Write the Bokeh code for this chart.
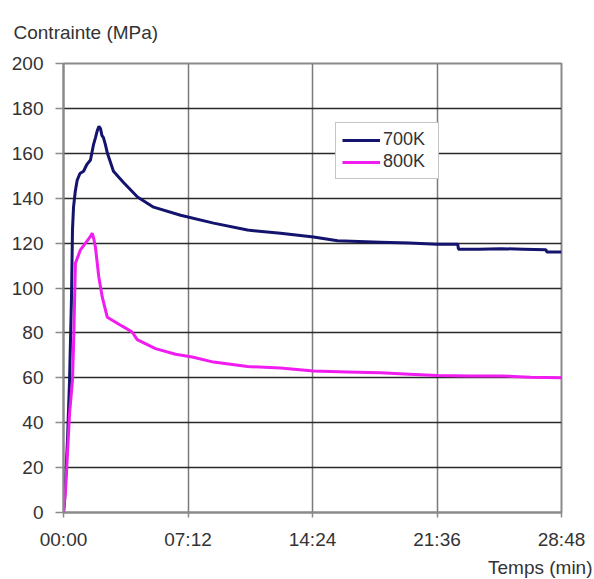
from bokeh.plotting import figure
from bokeh.models import FixedTicker, Legend, LegendItem, Range1d, Title
from bokeh.embed import file_html
from bokeh.resources import INLINE

# time in minutes, stress in MPa
t_700 = [0.0, 0.06, 0.23, 0.35, 0.46, 0.52, 0.58, 0.68, 0.79, 0.95, 1.16, 1.35, 1.56, 1.74, 1.85,
         1.95, 2.05, 2.14, 2.22, 2.31, 2.42, 2.54, 2.89, 3.47, 4.28, 5.21, 6.77, 8.68,
         10.64, 12.55, 14.46, 15.85, 18.33, 20.0, 21.6, 22.8, 22.84, 24.0, 25.3, 26.6, 27.9, 27.95, 28.8]
s_700 = [0, 5, 32, 59, 95, 126, 136, 143, 148, 151, 152, 155, 157, 164, 167,
         170, 172, 171, 168, 167, 164, 160, 152, 147, 140.5, 136, 132.4, 128.9,
         125.8, 124.4, 122.7, 121, 120.4, 120, 119.5, 119.5, 117.3, 117.3, 117.5, 117.3, 117, 116, 116]

t_800 = [0.0, 0.12, 0.21, 0.35, 0.52, 0.58, 0.69, 0.98, 1.37, 1.56, 1.66, 1.75, 1.85,
         2.04, 2.24, 2.53, 3.4, 3.97, 4.26, 5.32, 6.48, 7.44, 8.68,
         10.64, 12.55, 14.46, 16.4, 18.33, 20.0, 21.6, 23.5, 25.3, 27.0, 28.8]
s_800 = [0, 10, 23.5, 44, 59, 74, 111, 117, 121, 123, 124.4, 122, 118,
         105, 96, 87, 83, 80.4, 77, 73, 70.5, 69.3, 67,
         65, 64.4, 63, 62.6, 62.2, 61.6, 61, 60.8, 60.8, 60.3, 60]

x_ticks = [0, 7.2, 14.4, 21.6, 28.8]
x_labels = ["00:00", "07:12", "14:24", "21:36", "28:48"]
y_ticks = [0, 20, 40, 60, 80, 100, 120, 140, 160, 180, 200]
series_names = ["700K", "800K"]

FONT = "Liberation Sans"
TXT = "#333333"

p = figure(width=594, height=579, output_backend="svg", toolbar_location=None,
           title=None, x_range=Range1d(0, 28.8), y_range=Range1d(0, 200),
           min_border_left=63, min_border_right=33, min_border_top=63, min_border_bottom=66)
p.background_fill_color = "white"
p.border_fill_color = "white"
p.outline_line_color = "#8a8a8a"
p.outline_line_width = 2

p.xaxis.ticker = FixedTicker(ticks=x_ticks)
p.xaxis.major_label_overrides = {t: l for t, l in zip(x_ticks, x_labels)}
p.yaxis.ticker = FixedTicker(ticks=y_ticks)
for ax in (p.xaxis, p.yaxis):
    ax.axis_line_color = "#8a8a8a"
    ax.axis_line_width = 2
    ax.major_tick_line_color = "#8a8a8a"
    ax.major_tick_line_width = 1.5
    ax.minor_tick_line_color = None
    ax.major_tick_in = 0
    ax.major_label_text_font = FONT
    ax.major_label_text_font_size = "19px"
    ax.major_label_text_color = TXT
p.yaxis.major_tick_out = 8
p.yaxis.major_label_standoff = 12
p.xaxis.major_tick_out = 5
p.xaxis.major_label_standoff = 11

p.xgrid.ticker = FixedTicker(ticks=x_ticks)
p.ygrid.ticker = FixedTicker(ticks=y_ticks)
p.xgrid.grid_line_color = "#7a7a7a"
p.xgrid.grid_line_width = 1.5
p.ygrid.grid_line_color = "#2a2a2a"
p.ygrid.grid_line_width = 1.5

r1 = p.line(t_700, s_700, line_color="#14146e", line_width=3)
r2 = p.line(t_800, s_800, line_color="#f01cf0", line_width=3)

legend = Legend(items=[LegendItem(label=series_names[0], renderers=[r1]),
                       LegendItem(label=series_names[1], renderers=[r2])],
                location=(272, 333))
legend.border_line_color = "#8a8a8a"
legend.border_line_width = 1.5
legend.background_fill_color = "white"
legend.background_fill_alpha = 1
legend.label_text_font = FONT
legend.label_text_font_size = "18px"
legend.label_text_color = TXT
legend.glyph_width = 38
legend.glyph_height = 20
legend.label_height = 20
legend.label_width = 49
legend.label_standoff = 3
legend.spacing = 1
legend.padding = 6
legend.margin = 0
p.add_layout(legend, "center")

ytitle = Title(text="Contrainte (MPa)", align="left", offset=-50, standoff=38,
               vertical_align="top",
               text_font=FONT, text_font_size="19px", text_color=TXT,
               text_font_style="normal")
xtitle = Title(text="Temps (min)", align="right", offset=-31, standoff=4,
               text_font=FONT, text_font_size="19px", text_color=TXT,
               text_font_style="normal")
p.add_layout(ytitle, "above")
p.add_layout(xtitle, "below")

open("out.html", "w").write(file_html(p, INLINE))
